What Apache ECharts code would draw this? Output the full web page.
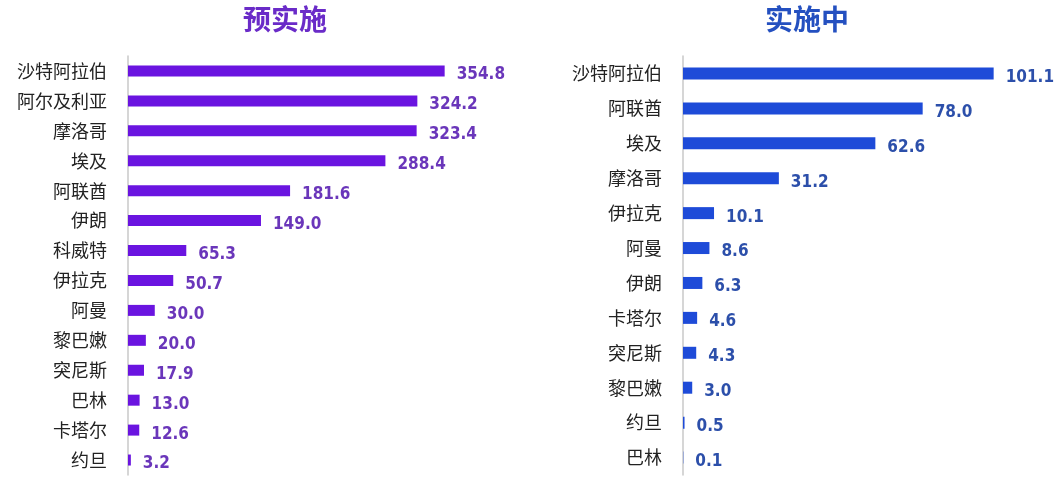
<!DOCTYPE html>
<html><head><meta charset="utf-8">
<script src="https://cdn.jsdelivr.net/npm/echarts@6/dist/echarts.min.js"></script>
<style>html,body{margin:0;padding:0;background:#fff}#c{width:1057px;height:479px}</style>
</head><body><div id="c"></div>
<script>
const leftTitle = '预实施';
const leftCats = ['沙特阿拉伯','阿尔及利亚','摩洛哥','埃及','阿联酋','伊朗','科威特','伊拉克','阿曼','黎巴嫩','突尼斯','巴林','卡塔尔','约旦'];
const leftVals = [354.8,324.2,323.4,288.4,181.6,149.0,65.3,50.7,30.0,20.0,17.9,13.0,12.6,3.2];
const rightTitle = '实施中';
const rightCats = ['沙特阿拉伯','阿联酋','埃及','摩洛哥','伊拉克','阿曼','伊朗','卡塔尔','突尼斯','黎巴嫩','约旦','巴林'];
const rightVals = [101.1,78.0,62.6,31.2,10.1,8.6,6.3,4.6,4.3,3.0,0.5,0.1];

const numFont = '"DejaVu Sans Condensed","Liberation Sans Narrow",sans-serif';
const cjk = '"Noto Sans CJK SC",sans-serif';
const chart = echarts.init(document.getElementById('c'));
chart.setOption({
  animation:false,
  title:[
    {text:leftTitle,left:280,top:0,textAlign:'center',textStyle:{fontFamily:cjk,fontSize:28,fontWeight:'bold',color:'#6A2BC8'}},
    {text:rightTitle,left:802,top:0,textAlign:'center',textStyle:{fontFamily:cjk,fontSize:28,fontWeight:'bold',color:'#2450C0'}}
  ],
  grid:[
    {left:128,top:56,width:357,bottom:4},
    {left:683,top:56,width:338,bottom:4}
  ],
  xAxis:[
    {gridIndex:0,type:'value',min:0,max:400,show:false},
    {gridIndex:1,type:'value',min:0,max:110,show:false}
  ],
  yAxis:[
    {gridIndex:0,type:'category',data:leftCats,inverse:true,
     axisLine:{lineStyle:{color:'#c8c8c8',width:1.5}},axisTick:{show:false},
     axisLabel:{margin:21,fontFamily:cjk,fontSize:18,color:'#222'}},
    {gridIndex:1,type:'category',data:rightCats,inverse:true,
     axisLine:{lineStyle:{color:'#c8c8c8',width:1.5}},axisTick:{show:false},
     axisLabel:{margin:21,fontFamily:cjk,fontSize:18,color:'#222'}}
  ],
  series:[
    {type:'bar',xAxisIndex:0,yAxisIndex:0,data:leftVals,barWidth:11,
     itemStyle:{color:'#6A14E0'},
     label:{show:true,position:'right',distance:12,offset:[0,4],formatter:p=>p.value.toFixed(1),
       fontFamily:numFont,fontWeight:'bold',fontSize:17,color:'#6A36BA'}},
    {type:'bar',xAxisIndex:1,yAxisIndex:1,data:rightVals,barWidth:12,
     itemStyle:{color:'#1E4BD8'},
     label:{show:true,position:'right',distance:12,offset:[0,4],formatter:p=>p.value.toFixed(1),
       fontFamily:numFont,fontWeight:'bold',fontSize:17,color:'#2C4FAA'}}
  ]
});
</script></body></html>
